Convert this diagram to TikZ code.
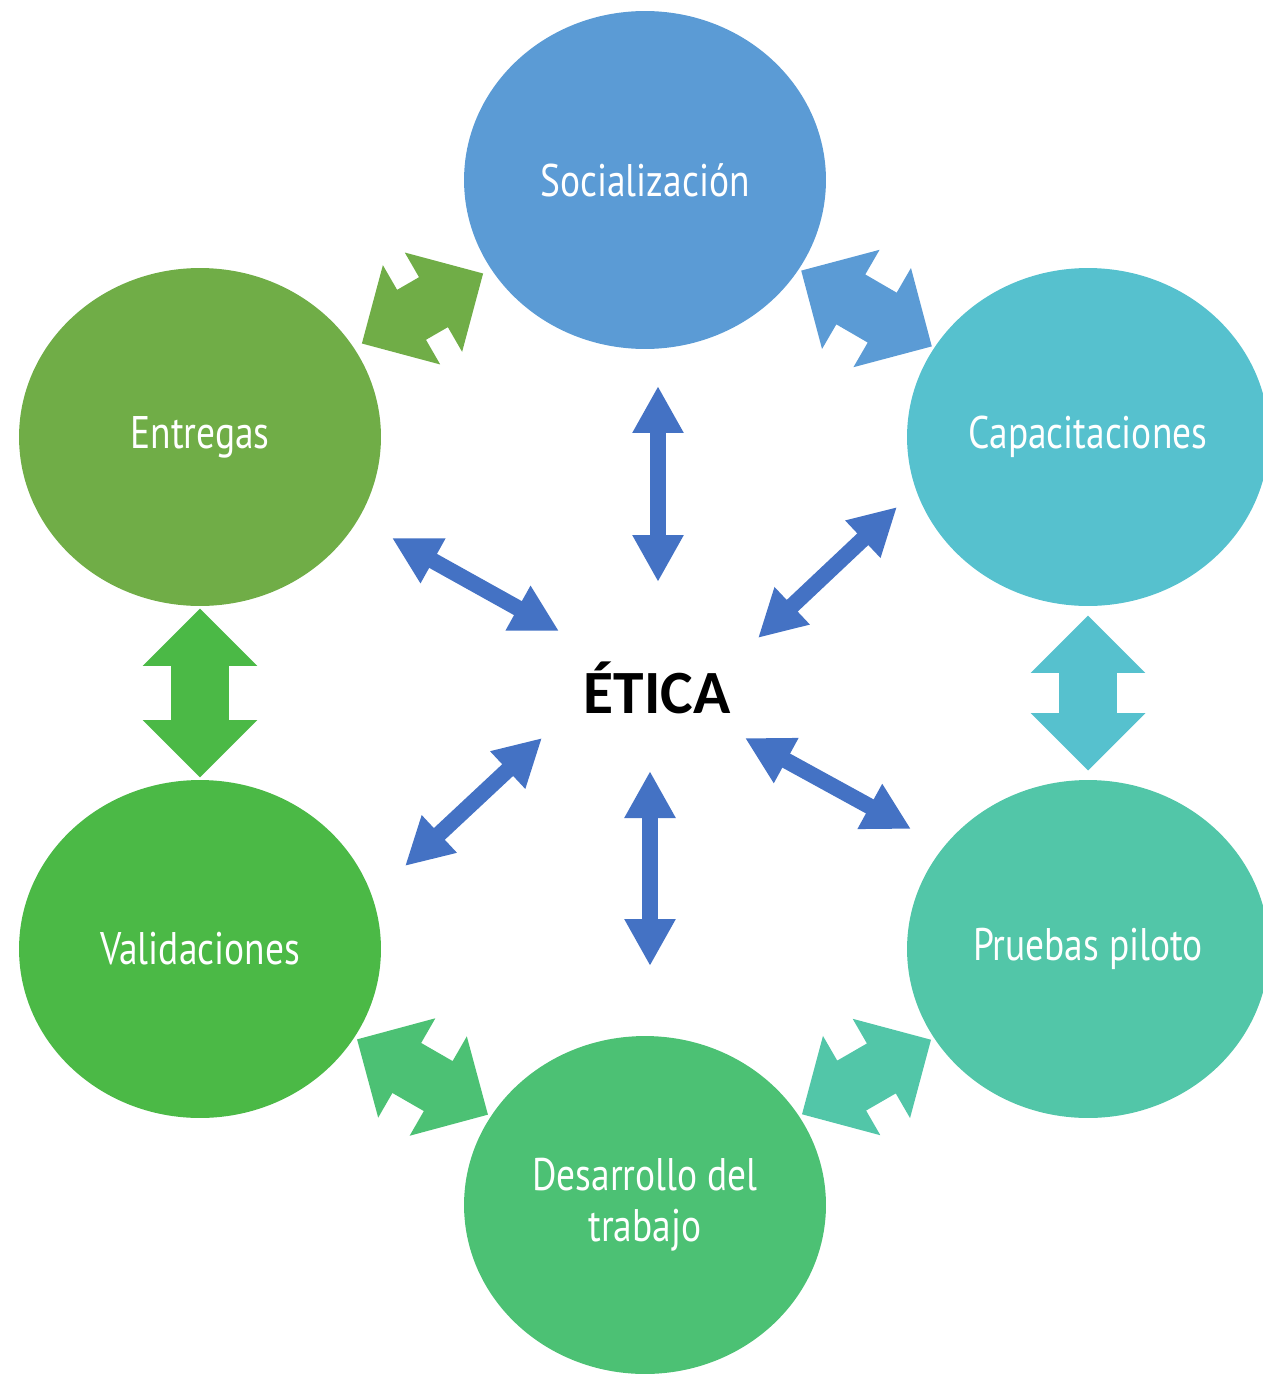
\documentclass[tikz,border=0pt]{standalone}
\usepackage{fontspec}
\setmainfont{PT Sans}
\newfontfamily\stagefont[FakeStretch=0.82]{PT Sans}
\newfontfamily\hubfont{Carlito}
\usepackage{xcolor}
\usepackage{tikz}
\usetikzlibrary{positioning, shapes.geometric, shapes.arrows, arrows.meta}
\definecolor{socblue}{HTML}{5B9BD5}
\definecolor{capteal}{HTML}{56C1CE}
\definecolor{pruteal}{HTML}{52C6A8}
\definecolor{desgreen}{HTML}{4CC174}
\definecolor{valgreen}{HTML}{4BB946}
\definecolor{entgreen}{HTML}{70AD47}
\definecolor{spokeblue}{HTML}{4472C4}

\begin{document}
\begin{tikzpicture}[
  x=0.02cm, y=-0.02cm,
  stage/.style={ellipse, minimum width=7.24cm, minimum height=6.76cm, inner sep=0pt,
                text=white, align=center, font=\stagefont\fontsize{26}{29}\selectfont},
  link/.style={double arrow, double arrow tip angle=90, double arrow head extend=0.57cm,
               double arrow head indent=0pt, inner xsep=0pt, inner ysep=0.57cm, sloped},
  spoke/.style={{Triangle[length=0.94cm, width=0.96cm]}-{Triangle[length=0.94cm, width=0.96cm]},
                line width=0.32cm, draw=spokeblue}
]
  \useasboundingbox (0,0) rectangle (1263,1375);
  \node[stage, fill=socblue]  (soc) at (645,180)  {Socializaci\'on};
  \node[stage, fill=capteal]  (cap) at (1088,437) {Capacitaciones};
  \node[stage, fill=pruteal]  (pru) at (1088,949) {Pruebas piloto};
  \node[stage, fill=desgreen] (des) at (645,1205) {Desarrollo del\\trabajo};
  \node[stage, fill=valgreen] (val) at (200,949)  {Validaciones};
  \node[stage, fill=entgreen] (ent) at (200,437)  {Entregas};
  \node[font=\hubfont\bfseries\fontsize{35}{42}\selectfont] (etica) at (657,688) {ÉTICA};

  \path (ent) -- node[link, fill=entgreen, minimum height=2.8cm] (l1) {} (soc);
  \path (soc) -- node[link, fill=socblue, minimum height=3.02cm] (l2) {} (cap);
  \path (cap) -- node[link, fill=capteal, minimum height=3.1cm] (l3) {} (pru);
  \path (pru) -- node[link, fill=pruteal, minimum height=2.98cm] (l4) {} (des);
  \path (val) -- node[link, fill=desgreen, minimum height=3.02cm] (l5) {} (des);
  \path (ent) -- node[link, fill=valgreen, minimum height=3.38cm] (l6) {} (val);

  \coordinate (s1a) at (658,386);   \coordinate (s1b) at (658,582);
  \coordinate (s2a) at (897,507);   \coordinate (s2b) at (758,638);
  \coordinate (s3a) at (745,738);   \coordinate (s3b) at (911,829);
  \coordinate (s4a) at (650,771);   \coordinate (s4b) at (650,966);
  \coordinate (s5a) at (542,738);   \coordinate (s5b) at (405,866);
  \coordinate (s6a) at (392,538);   \coordinate (s6b) at (559,631);
  \foreach \s in {1,...,6}
    \draw[spoke] (s\s a) -- (s\s b);
\end{tikzpicture}
\end{document}
